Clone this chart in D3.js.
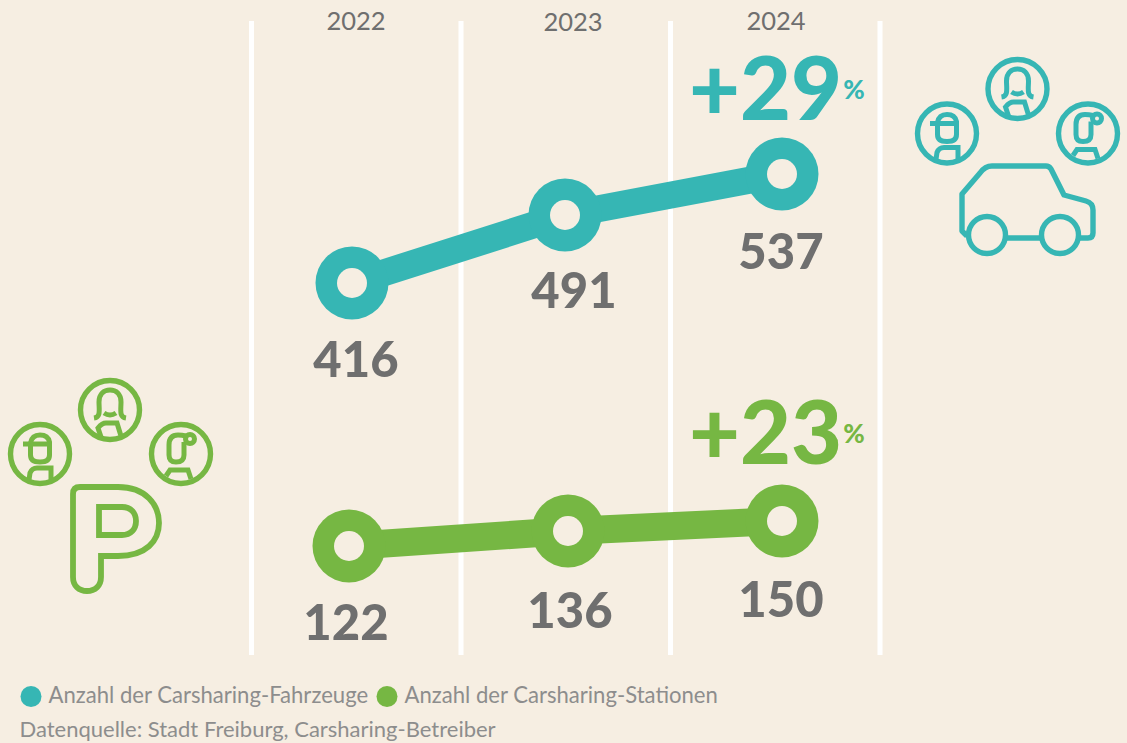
<!DOCTYPE html>
<html><head><meta charset="utf-8">
<script src="https://cdnjs.cloudflare.com/ajax/libs/d3/7.8.5/d3.min.js"></script>
<style>html,body{margin:0;padding:0;background:#f6eee2;overflow:hidden}svg{display:block}text{font-family:Lato,"Open Sans",sans-serif}</style>
</head><body><svg id="c" width="1127" height="743"></svg>
<script>
const years=[2022,2023,2024];
const vehicles=[416,491,537];
const stations=[122,136,150];
const seriesNames=["Anzahl der Carsharing-Fahrzeuge","Anzahl der Carsharing-Stationen"];
const growth=["+29","+23"];
const source="Datenquelle: Stadt Freiburg, Carsharing-Betreiber";
const TEAL="#36b6b4",GREEN="#76b743",BG="#f6eee2",GREY="#6f6f6f",LIGHT="#8d8d8d";
const svg=d3.select("#c");
svg.append("rect").attr("width",1127).attr("height",743).attr("fill",BG);

const gridX=[251.5,461,670.5,880];
svg.selectAll("line.g").data(gridX).join("line").attr("x1",d=>d).attr("x2",d=>d).attr("y1",21).attr("y2",655)
  .attr("stroke","#fff").attr("stroke-width",5);
const yearX=[356,573,776];
svg.selectAll("text.y").data(years).join("text").attr("x",(d,i)=>yearX[i]).attr("y",(d,i)=>[30,31,30][i])
  .attr("text-anchor","middle").attr("font-size",25.5).attr("fill",GREY).text(d=>d);

function series(values,color,xr,yr,labelPos,g,gPos,sw){
  const x=d3.scaleLinear().domain(years).range(xr);
  const y=d3.scaleLinear().domain(values).range(yr);
  const line=d3.line().x((d,i)=>x(years[i])).y(d=>y(d));
  svg.append("path").attr("d",line(values)).attr("fill","none").attr("stroke",color).attr("stroke-width",sw);
  svg.selectAll(null).data(values).join("circle").attr("cx",(d,i)=>x(years[i])).attr("cy",d=>y(d)).attr("r",36.5).attr("fill",color);
  svg.selectAll(null).data(values).join("circle").attr("cx",(d,i)=>x(years[i])).attr("cy",d=>y(d)).attr("r",15).attr("fill",BG);
  svg.selectAll(null).data(values).join("text").attr("x",(d,i)=>labelPos[i][0]).attr("y",(d,i)=>labelPos[i][1])
    .attr("text-anchor","middle").attr("font-size",49).attr("font-weight",900).attr("fill",GREY).text(d=>d);
  const t=svg.append("text").attr("x",gPos[0]).attr("y",gPos[1]).attr("fill",color).attr("font-weight",900);
  t.append("tspan").attr("font-size",88).text(g);
  t.append("tspan").attr("font-size",26).attr("dy",-21).attr("dx",1).text("%");
}
series(vehicles,TEAL,[352,565,782],[283,215,174],[[356,377],[574,308],[781,269]],growth[0],[689,120],27);
series(stations,GREEN,[349,568,782],[546,531,521],[[346,640],[570,628],[781,617]],growth[1],[689,464],28);

function person(g,kind,color){
  const s=g.append("g").attr("fill","none").attr("stroke",color).attr("stroke-width",5.4);
  s.append("circle").attr("r",29.5);
  const thin=s.append("g").attr("stroke-width",5);
  if(kind==="hair"){
    thin.append("path").attr("d","M-16 8 C-9 7 -11 0 -11 -8 C-11 -16 -6 -20 0 -20 C6 -20 11 -16 11 -8 C11 0 9 7 16 8");
    thin.append("path").attr("d","M-6 3 Q0 7 6 3");
    thin.append("path").attr("d","M-9 27 L-12 18 Q-8 13 -4 13 L7 13 L11 26");
  }else if(kind==="cap"){
    thin.append("path").attr("d","M-9.5 -10 L-9.5 1 Q-9.5 8 0 8 Q9.5 8 9.5 1 L9.5 -12 Q8 -19 0 -19 Q-8 -19 -9.5 -11");
    thin.append("path").attr("d","M-17 -10 L9 -10");
    thin.append("path").attr("d","M-11 26 L-10 19 Q-8 14 -3 14 L11 14 L11 26");
  }else{
    thin.append("path").attr("d","M5 -18 Q1 -19 -3 -19 Q-12 -19 -12 -9 L-12 1 Q-12 8 -5 8 Q3 8 3 1 L3 -12");
    thin.append("circle").attr("cx",9).attr("cy",-15).attr("r",4.5);
    thin.append("path").attr("d","M-15 22 L-11 16 L7 16 L10 25");
  }
}
function trio(color,a,b,c){
  [["cap",a],["hair",b],["bun",c]].forEach(([k,p])=>{
    person(svg.append("g").attr("transform",`translate(${p[0]},${p[1]})`),k,color);
  });
}
trio(TEAL,[947,133.5],[1017.5,89],[1088,133.5]);
trio(GREEN,[40,454],[110,410],[181,454]);
svg.append("path").attr("d","M967 236 L962 231 L962 194 L980 173 Q985 166 992 166 L1046 166 Q1049 166 1051 169 L1064 195 L1086 201 Q1093 203 1093 210 L1093 233 Q1093 238 1088 238 L1079 238 M1041 238 L1006 238")
  .attr("fill","none").attr("stroke",TEAL).attr("stroke-width",5.4).attr("stroke-linejoin","round");
svg.selectAll(null).data([987,1060]).join("circle").attr("cx",d=>d).attr("cy",235).attr("r",18.5).attr("fill","none").attr("stroke",TEAL).attr("stroke-width",5.4);
svg.append("path").attr("d","M80 487 L118 487 C146 487 159 505 159 523 C159 541 146 556 118 556 L101 556 L101 577 C101 586 95 591 87 591 C79 591 73 586 73 577 L73 494 Q73 487 80 487 Z M99 507 L99 535 L122 535 C131 535 136 529 136 521 C136 513 131 507 122 507 Z")
  .attr("fill","none").attr("stroke",GREEN).attr("stroke-width",5.8);

const leg=[[31,48.5,TEAL],[387,404.5,GREEN]];
leg.forEach((l,i)=>{
  svg.append("circle").attr("cx",l[0]).attr("cy",696.5).attr("r",10.5).attr("fill",l[2]);
  svg.append("text").attr("x",l[1]).attr("y",703).attr("font-size",22.1).attr("fill",LIGHT).text(seriesNames[i]);
});
svg.append("text").attr("x",19.5).attr("y",737).attr("font-size",22).attr("fill",LIGHT).text(source);
</script></body></html>
